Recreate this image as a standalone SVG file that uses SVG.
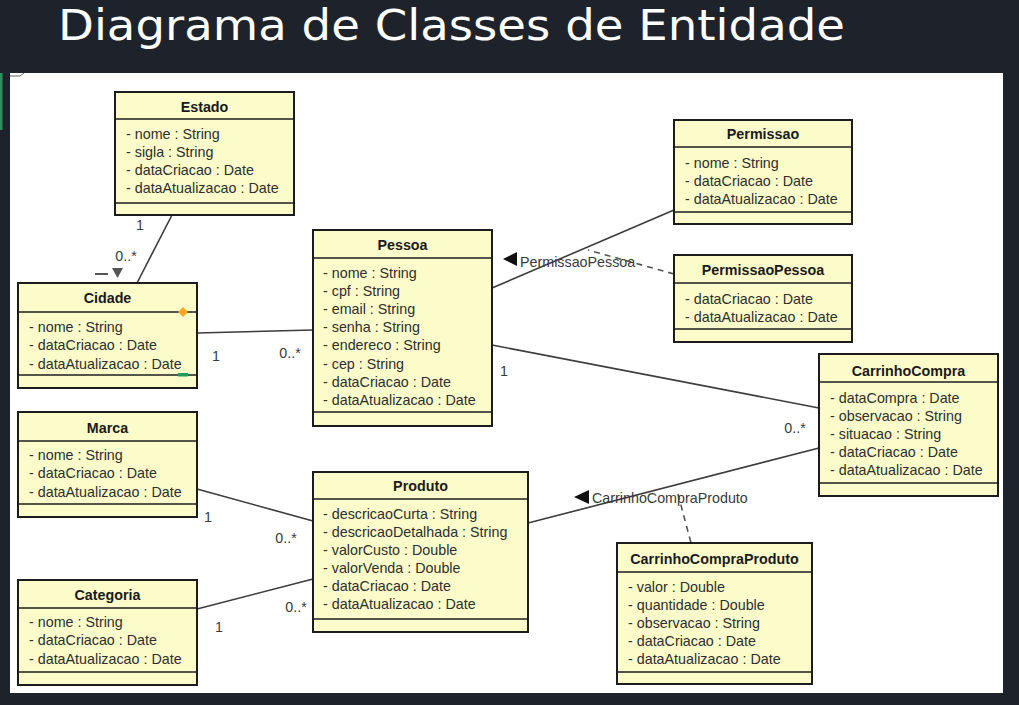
<svg xmlns="http://www.w3.org/2000/svg" width="1019" height="705" viewBox="0 0 1019 705">
<defs>
<style>
.box{fill:#fcfcca;stroke:#1c1c1c;stroke-width:2}
.sep{stroke:#1c1c1c;stroke-width:1.6}
.nm{font-family:"Liberation Sans",Arial,sans-serif;font-size:14.3px;font-weight:bold;fill:#1a1a1a;text-anchor:middle}
.at{font-family:"Liberation Sans",Arial,sans-serif;font-size:14.3px;fill:#2e2e2e}
.lbl{font-family:"Liberation Sans",Arial,sans-serif;font-size:14.3px;fill:#3a3a3a}
.mul{font-family:"Liberation Sans",Arial,sans-serif;font-size:14.3px;fill:#3a3a3a;text-anchor:middle}
.ln{stroke:#3c3c3c;stroke-width:1.6;fill:none}
.dash{stroke:#555;stroke-width:1.6;fill:none;stroke-dasharray:6 5}
</style>
</defs>
<rect x="0" y="0" width="1019" height="705" fill="#1e222b"/>
<text x="58" y="40" font-family="'DejaVu Sans',sans-serif" font-size="43" fill="#ffffff" textLength="787" lengthAdjust="spacingAndGlyphs">Diagrama de Classes de Entidade</text>
<rect x="0" y="73" width="2.5" height="57" fill="#2f8f5f"/>
<rect x="10" y="73" width="993" height="620" fill="#ffffff"/>
<path d="M10 76 H20 L24 73" fill="none" stroke="#666" stroke-width="1"/>

<g id="connectors">
<line class="ln" x1="172" y1="215" x2="137" y2="283"/>
<line class="ln" x1="197" y1="333" x2="313" y2="330"/>
<line class="ln" x1="492" y1="288" x2="674" y2="210"/>
<line class="dash" x1="674" y1="274" x2="588" y2="250"/>
<line class="ln" x1="492" y1="345" x2="819" y2="408"/>
<line class="ln" x1="819" y1="448" x2="528" y2="523"/>
<line class="dash" x1="678" y1="494" x2="691" y2="543"/>
<line class="ln" x1="197" y1="489" x2="313" y2="521"/>
<line class="ln" x1="197" y1="609" x2="313" y2="579"/>
<line x1="95" y1="274" x2="108" y2="274" stroke="#555" stroke-width="2"/>
<polygon points="112,268 123,268 117.5,278" fill="#555"/>
<polygon points="503,259 517,252 517,266" fill="#111"/>
<text class="lbl" x="520" y="267">PermissaoPessoa</text>
<polygon points="574,497 589,490 589,504" fill="#111"/>
<text class="lbl" x="592" y="503">CarrinhoCompraProduto</text>
<text class="mul" x="140" y="230">1</text>
<text class="mul" x="126" y="261">0..*</text>
<text class="mul" x="216" y="361">1</text>
<text class="mul" x="290" y="358">0..*</text>
<text class="mul" x="504" y="376">1</text>
<text class="mul" x="795" y="433">0..*</text>
<text class="mul" x="208" y="522">1</text>
<text class="mul" x="286" y="543">0..*</text>
<text class="mul" x="219" y="632">1</text>
<text class="mul" x="296" y="612">0..*</text>
</g>

<g id="Estado">
<rect class="box" x="115" y="92" width="179" height="123"/>
<line class="sep" x1="115" y1="119" x2="294" y2="119"/>
<line class="sep" x1="115" y1="203" x2="294" y2="203"/>
<text class="nm" x="204.5" y="112">Estado</text>
<text class="at" x="126" y="139">- nome : String</text>
<text class="at" x="126" y="157">- sigla : String</text>
<text class="at" x="126" y="175">- dataCriacao : Date</text>
<text class="at" x="126" y="193">- dataAtualizacao : Date</text>
</g>

<g id="Cidade">
<rect class="box" x="18" y="283" width="179" height="105"/>
<line class="sep" x1="18" y1="312" x2="197" y2="312"/>
<line class="sep" x1="18" y1="375" x2="197" y2="375"/>
<text class="nm" x="107.5" y="303">Cidade</text>
<text class="at" x="29" y="332">- nome : String</text>
<text class="at" x="29" y="350">- dataCriacao : Date</text>
<text class="at" x="29" y="369">- dataAtualizacao : Date</text>
<polygon points="183,307 188,312 183,317 178,312" fill="#f5a623"/>
<rect x="178" y="373" width="10" height="3.5" fill="#1aa05a"/>
</g>

<g id="Pessoa">
<rect class="box" x="313" y="230" width="179" height="196"/>
<line class="sep" x1="313" y1="258" x2="492" y2="258"/>
<line class="sep" x1="313" y1="412" x2="492" y2="412"/>
<text class="nm" x="402.5" y="250">Pessoa</text>
<text class="at" x="323" y="278">- nome : String</text>
<text class="at" x="323" y="296">- cpf : String</text>
<text class="at" x="323" y="314">- email : String</text>
<text class="at" x="323" y="332">- senha : String</text>
<text class="at" x="323" y="350">- endereco : String</text>
<text class="at" x="323" y="369">- cep : String</text>
<text class="at" x="323" y="387">- dataCriacao : Date</text>
<text class="at" x="323" y="405">- dataAtualizacao : Date</text>
</g>

<g id="Permissao">
<rect class="box" x="674" y="120" width="178" height="104"/>
<line class="sep" x1="674" y1="147" x2="852" y2="147"/>
<line class="sep" x1="674" y1="212" x2="852" y2="212"/>
<text class="nm" x="763" y="139">Permissao</text>
<text class="at" x="685" y="168">- nome : String</text>
<text class="at" x="685" y="186">- dataCriacao : Date</text>
<text class="at" x="685" y="204">- dataAtualizacao : Date</text>
</g>

<g id="PermissaoPessoa">
<rect class="box" x="674" y="255" width="178" height="87"/>
<line class="sep" x1="674" y1="283" x2="852" y2="283"/>
<line class="sep" x1="674" y1="329" x2="852" y2="329"/>
<text class="nm" x="763" y="275">PermissaoPessoa</text>
<text class="at" x="685" y="304">- dataCriacao : Date</text>
<text class="at" x="685" y="322">- dataAtualizacao : Date</text>
</g>

<g id="CarrinhoCompra">
<rect class="box" x="819" y="354" width="179" height="142"/>
<line class="sep" x1="819" y1="382" x2="998" y2="382"/>
<line class="sep" x1="819" y1="483" x2="998" y2="483"/>
<text class="nm" x="908.5" y="376">CarrinhoCompra</text>
<text class="at" x="830" y="403">- dataCompra : Date</text>
<text class="at" x="830" y="421">- observacao : String</text>
<text class="at" x="830" y="439">- situacao : String</text>
<text class="at" x="830" y="457">- dataCriacao : Date</text>
<text class="at" x="830" y="475">- dataAtualizacao : Date</text>
</g>

<g id="Marca">
<rect class="box" x="18" y="412" width="179" height="105"/>
<line class="sep" x1="18" y1="441" x2="197" y2="441"/>
<line class="sep" x1="18" y1="504" x2="197" y2="504"/>
<text class="nm" x="107.5" y="433">Marca</text>
<text class="at" x="29" y="460">- nome : String</text>
<text class="at" x="29" y="478">- dataCriacao : Date</text>
<text class="at" x="29" y="497">- dataAtualizacao : Date</text>
</g>

<g id="Categoria">
<rect class="box" x="18" y="580" width="179" height="105"/>
<line class="sep" x1="18" y1="608" x2="197" y2="608"/>
<line class="sep" x1="18" y1="672" x2="197" y2="672"/>
<text class="nm" x="107.5" y="600">Categoria</text>
<text class="at" x="29" y="627">- nome : String</text>
<text class="at" x="29" y="645">- dataCriacao : Date</text>
<text class="at" x="29" y="664">- dataAtualizacao : Date</text>
</g>

<g id="Produto">
<rect class="box" x="313" y="472" width="215" height="160"/>
<line class="sep" x1="313" y1="499" x2="528" y2="499"/>
<line class="sep" x1="313" y1="619" x2="528" y2="619"/>
<text class="nm" x="420.5" y="491">Produto</text>
<text class="at" x="323" y="519">- descricaoCurta : String</text>
<text class="at" x="323" y="537">- descricaoDetalhada : String</text>
<text class="at" x="323" y="555">- valorCusto : Double</text>
<text class="at" x="323" y="573">- valorVenda : Double</text>
<text class="at" x="323" y="591">- dataCriacao : Date</text>
<text class="at" x="323" y="609">- dataAtualizacao : Date</text>
</g>

<g id="CarrinhoCompraProduto">
<rect class="box" x="617" y="543" width="195" height="141"/>
<line class="sep" x1="617" y1="572" x2="812" y2="572"/>
<line class="sep" x1="617" y1="672" x2="812" y2="672"/>
<text class="nm" x="714.5" y="564">CarrinhoCompraProduto</text>
<text class="at" x="628" y="592">- valor : Double</text>
<text class="at" x="628" y="610">- quantidade : Double</text>
<text class="at" x="628" y="628">- observacao : String</text>
<text class="at" x="628" y="646">- dataCriacao : Date</text>
<text class="at" x="628" y="664">- dataAtualizacao : Date</text>
</g>
</svg>
